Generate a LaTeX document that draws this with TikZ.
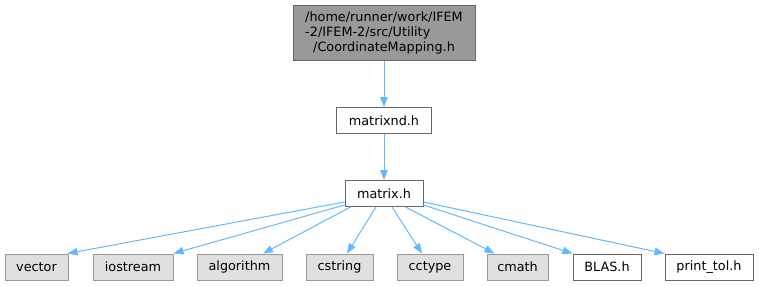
\documentclass[tikz,border=0pt]{standalone}
\usepackage{fontspec}
\setmainfont{DejaVu Sans}
\usetikzlibrary{arrows.meta,calc}
\definecolor{edgeblue}{HTML}{63B8FF}
\definecolor{topfill}{HTML}{999999}
\definecolor{darkborder}{HTML}{666666}
\definecolor{grayfill}{HTML}{E0E0E0}
\definecolor{grayborder}{HTML}{999999}
\begin{document}
\begin{tikzpicture}[x=1pt,y=1pt,
  box/.style={draw=darkborder,fill=white,line width=1pt,inner sep=0pt,minimum height=26pt,font=\fontsize{12.8}{15}\selectfont},
  sysbox/.style={box,draw=grayborder,fill=grayfill},
  edge/.style={draw=edgeblue,line width=1pt,-{Triangle[length=10pt,width=7.5pt]}}]
\useasboundingbox (0,0) rectangle (759,-285);
\node[box,fill=topfill,minimum width=182pt,minimum height=55pt,align=left] (top) at (384,-32.5)
  {/home/runner/work/IFEM\\-2/IFEM-2/src/Utility\\\hspace*{8pt}/CoordinateMapping.h};
\node[box,minimum width=95pt] (nd) at (384,-120.5) {matrixnd.h};
\node[box,minimum width=78pt] (m) at (384,-193.5) {matrix.h};
\node[sysbox,minimum width=63pt] (v) at (36.5,-267) {vector};
\node[sysbox,minimum width=80pt] (io) at (133,-267) {iostream};
\node[sysbox,minimum width=85pt] (al) at (239.5,-267) {algorithm};
\node[sysbox,minimum width=67pt] (cs) at (339.5,-267) {cstring};
\node[sysbox,minimum width=66pt] (cc) at (430,-267) {cctype};
\node[sysbox,minimum width=61pt] (cm) at (517.5,-267) {cmath};
\node[box,minimum width=68pt] (bl) at (607,-267) {BLAS.h};
\node[box,minimum width=88pt] (pt) at (709,-267) {print\_tol.h};
\draw[edge] (top) -- (nd);
\draw[edge] (nd) -- (m);
\draw[edge] ($(m.south west)+(0,5)$) -- ($(v.north east)+(-1,0)$);
\draw[edge] ($(m.south west)+(0,2)$) -- (io.north east);
\draw[edge] ($(m.south west)+(6,0)$) -- ($(al.north)+(23.5,0)$);
\draw[edge] ($(m.south)+(-8,0)$) -- ($(cs.north)+(7.5,0)$);
\draw[edge] ($(m.south)+(8,0)$) -- ($(cc.north)+(-8,0)$);
\draw[edge] ($(m.south east)+(-18,0)$) -- ($(cm.north west)+(8,0)$);
\draw[edge] ($(m.south east)+(0,2)$) -- (bl.north west);
\draw[edge] ($(m.south east)+(0,5)$) -- (pt.north west);
\end{tikzpicture}
\end{document}
